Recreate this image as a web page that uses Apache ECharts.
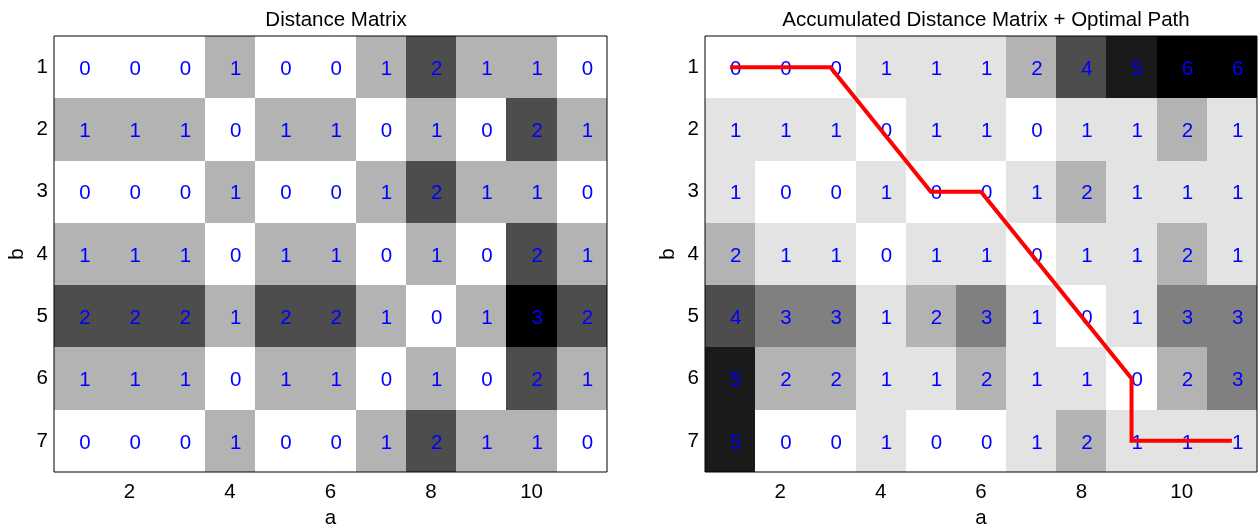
<!DOCTYPE html>
<html>
<head>
<meta charset="utf-8">
<script src="https://cdn.jsdelivr.net/npm/echarts@6/dist/echarts.min.js"></script>
<style>
  html, body { margin: 0; padding: 0; background: #fff; }
  #chart { width: 1258px; height: 528px; }
</style>
</head>
<body>
<div id="chart"></div>
<script>
// Sequence indices along each axis
const colsA = [1, 2, 3, 4, 5, 6, 7, 8, 9, 10, 11];
const rowsB = [1, 2, 3, 4, 5, 6, 7];

// Pairwise distance between the two sequences (row = b, column = a)
const distRows = [
  [0, 0, 0, 1, 0, 0, 1, 2, 1, 1, 0],
  [1, 1, 1, 0, 1, 1, 0, 1, 0, 2, 1],
  [0, 0, 0, 1, 0, 0, 1, 2, 1, 1, 0],
  [1, 1, 1, 0, 1, 1, 0, 1, 0, 2, 1],
  [2, 2, 2, 1, 2, 2, 1, 0, 1, 3, 2],
  [1, 1, 1, 0, 1, 1, 0, 1, 0, 2, 1],
  [0, 0, 0, 1, 0, 0, 1, 2, 1, 1, 0]
];

// Accumulated distance values
const accRows = [
  [0, 0, 0, 1, 1, 1, 2, 4, 5, 6, 6],
  [1, 1, 1, 0, 1, 1, 0, 1, 1, 2, 1],
  [1, 0, 0, 1, 0, 0, 1, 2, 1, 1, 1],
  [2, 1, 1, 0, 1, 1, 0, 1, 1, 2, 1],
  [4, 3, 3, 1, 2, 3, 1, 0, 1, 3, 3],
  [5, 2, 2, 1, 1, 2, 1, 1, 0, 2, 3],
  [5, 0, 0, 1, 0, 0, 1, 2, 1, 1, 1]
];

// Optimal warping path vertices (a, b)
const pathA = [1, 3, 5, 6, 9, 9, 11];
const pathB = [1, 1, 3, 3, 6, 7, 7];

// Tick labels
const xTicks = [2, 4, 6, 8, 10];
const yTicks = [1, 2, 3, 4, 5, 6, 7];

// Gray levels per value
const distGray = ['#ffffff', '#b3b3b3', '#4d4d4d', '#000000'];
const accGray = ['#ffffff', '#e3e3e3', '#b3b3b3', '#808080', '#4d4d4d', '#1a1a1a', '#000000'];

const FONT = '"Liberation Sans", Arial, Helvetica, sans-serif';
const FS = 20.5;

function toTriples(rows) {
  const out = [];
  rowsB.forEach((b, i) => colsA.forEach((a, j) => out.push([a, b, rows[i][j]])));
  return out;
}

function cellRenderer(palette) {
  return function (params, api) {
    const a = api.value(0), b = api.value(1), v = api.value(2);
    const p0 = api.coord([a - 0.5, b - 0.5]);
    const p1 = api.coord([a + 0.5, b + 0.5]);
    const c = api.coord([a, b]);
    const x0 = Math.round(Math.min(p0[0], p1[0]));
    const x1 = Math.round(Math.max(p0[0], p1[0]));
    const y0 = Math.round(Math.min(p0[1], p1[1]));
    const y1 = Math.round(Math.max(p0[1], p1[1]));
    return {
      type: 'group',
      children: [
        { type: 'rect', shape: { x: x0, y: y0, width: x1 - x0, height: y1 - y0 },
          style: { fill: palette[v] } },
        { type: 'text', x: c[0], y: c[1] + 2,
          style: { text: String(v), fill: '#0000ff', fontFamily: FONT, fontSize: FS,
                   align: 'left', verticalAlign: 'middle' } }
      ]
    };
  };
}

const grids = [
  { left: 54, right: 651, top: 36, bottom: 56 },
  { left: 705, right: 1, top: 36, bottom: 56 }
];

function xAxisPair(gi) {
  const base = {
    type: 'value', gridIndex: gi, min: 0.5, max: 11.5,
    splitLine: { show: false }, axisLine: { show: false },
    axisTick: { show: true, inside: true, length: 4, customValues: xTicks,
                lineStyle: { color: '#000', width: 1 } }
  };
  return [
    Object.assign({}, base, {
      position: 'bottom', name: 'a', nameLocation: 'middle', nameGap: 35,
      nameTextStyle: { color: '#000', fontFamily: FONT, fontSize: FS },
      axisLabel: { show: true, customValues: xTicks, margin: 10, color: '#000',
                   fontFamily: FONT, fontSize: FS }
    }),
    Object.assign({}, base, { position: 'top', axisLabel: { show: false } })
  ];
}

function yAxisPair(gi) {
  const base = {
    type: 'value', gridIndex: gi, min: 0.5, max: 7.5, inverse: true,
    splitLine: { show: false }, axisLine: { show: false },
    axisTick: { show: true, inside: true, length: 4, customValues: yTicks,
                lineStyle: { color: '#000', width: 1 } }
  };
  return [
    Object.assign({}, base, {
      position: 'left', name: 'b', nameLocation: 'middle', nameGap: 26, nameRotate: 90,
      nameTextStyle: { color: '#000', fontFamily: FONT, fontSize: FS },
      axisLabel: { show: true, customValues: yTicks, margin: 6, color: '#000',
                   fontFamily: FONT, fontSize: FS }
    }),
    Object.assign({}, base, { position: 'right', axisLabel: { show: false } })
  ];
}

const option = {
  animation: false,
  backgroundColor: '#ffffff',
  title: [
    { text: 'Distance Matrix', left: 331, top: 5, textAlign: 'center',
      textStyle: { color: '#000', fontFamily: FONT, fontSize: FS, fontWeight: 'normal' } },
    { text: 'Accumulated Distance Matrix + Optimal Path', left: 981, top: 5, textAlign: 'center',
      textStyle: { color: '#000', fontFamily: FONT, fontSize: FS, fontWeight: 'normal' } }
  ],
  grid: grids.map(g => Object.assign({ show: true, borderColor: '#000', borderWidth: 1,
                                        backgroundColor: 'transparent', z: 10,
                                        outerBoundsMode: 'none', containLabel: false }, g)),
  xAxis: [...xAxisPair(0), ...xAxisPair(1)],
  yAxis: [...yAxisPair(0), ...yAxisPair(1)],
  series: [
    {
      type: 'custom', xAxisIndex: 0, yAxisIndex: 0,
      renderItem: cellRenderer(distGray), data: toTriples(distRows), silent: true
    },
    {
      type: 'custom', xAxisIndex: 2, yAxisIndex: 2,
      renderItem: cellRenderer(accGray), data: toTriples(accRows), silent: true
    },
    {
      type: 'line', xAxisIndex: 2, yAxisIndex: 2, z: 5,
      data: pathA.map((a, i) => [a, pathB[i]]),
      showSymbol: false, symbol: 'none',
      lineStyle: { color: '#ff0000', width: 4, join: 'miter' }
    }
  ]
};

const chart = echarts.init(document.getElementById('chart'), null, { renderer: 'canvas' });
chart.setOption(option);
</script>
</body>
</html>
